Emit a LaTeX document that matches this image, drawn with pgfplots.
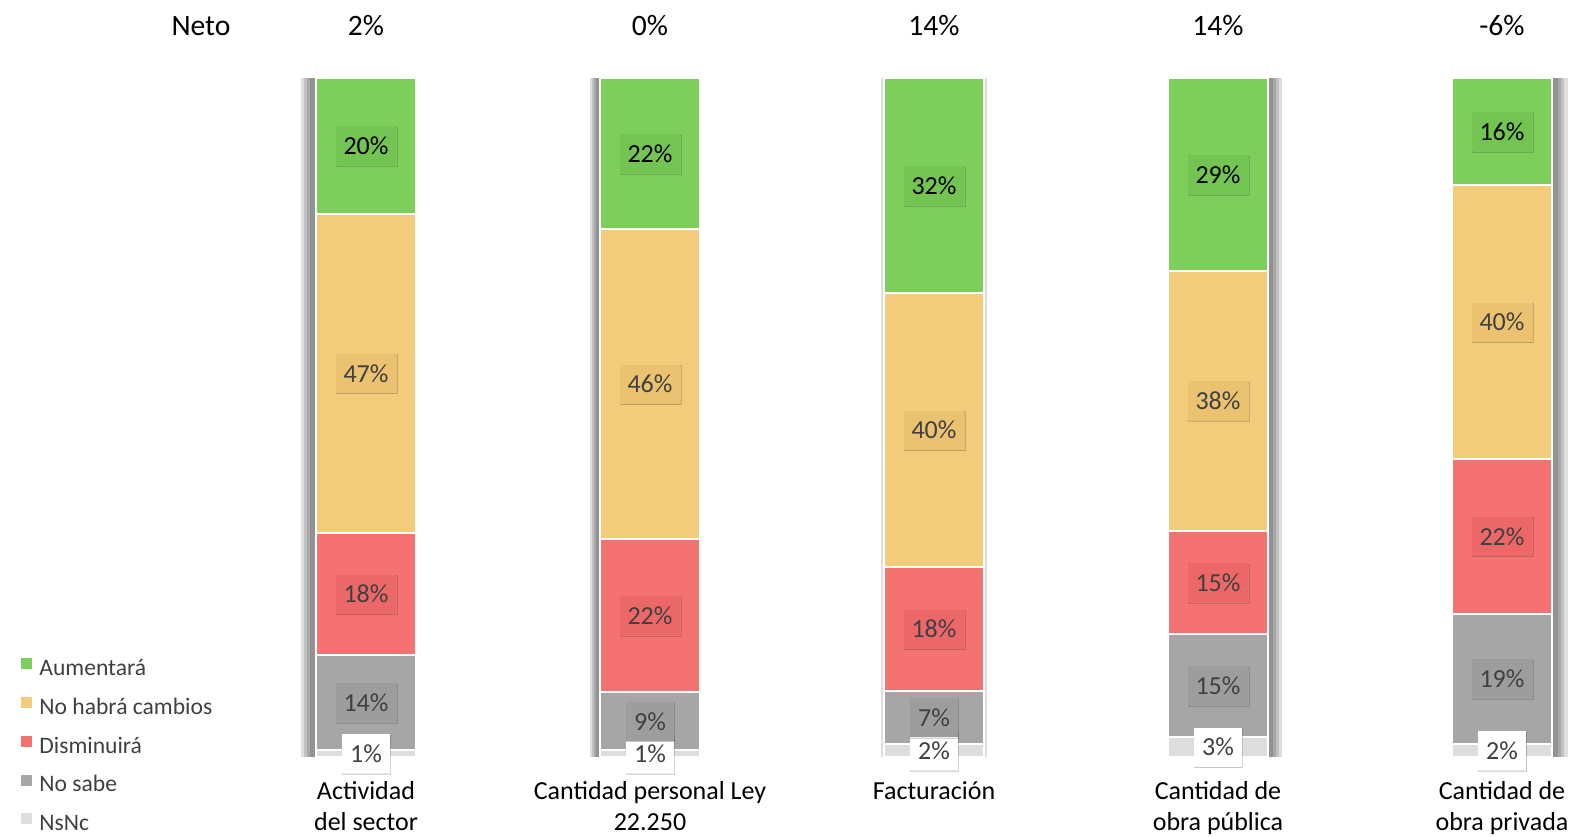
\documentclass[border=0pt]{standalone}
\usepackage{pgfplots}
\pgfplotsset{compat=1.18}
\usepackage{pgfplotstable}
\usepackage{fontspec}
\setmainfont{Carlito}
\usetikzlibrary{shadows}

\definecolor{cAum}{RGB}{126,206,92}
\definecolor{cAumB}{RGB}{116,196,83}
\definecolor{cNo}{RGB}{242,204,122}
\definecolor{cNoB}{RGB}{235,195,112}
\definecolor{cDis}{RGB}{245,114,114}
\definecolor{cDisB}{RGB}{236,104,104}
\definecolor{cNs}{RGB}{166,166,166}
\definecolor{cNsB}{RGB}{157,157,157}
\definecolor{cNc}{RGB}{221,221,221}
\definecolor{txt}{RGB}{64,64,64}

% segment heights (bottom to top) and their printed labels
\pgfplotstableread{
x nc  ns   dis  no   aum  lnc lns ldis lno laum
0 1.0 14.0 18.0 47.0 20.0 1   14  18   47  20
1 1.0 8.5  22.6 45.6 22.3 1   9   22   46  22
2 1.9 7.8  18.3 40.3 31.7 2   7   18   40  32
3 2.9 15.2 15.2 38.3 28.4 3   15  15   38  29
4 1.9 19.2 22.8 40.3 15.8 2   19  22   40  16
}\data

\pgfplotsset{common/.style={scale only axis, width=788.5pt, height=418.5pt,
  xmin=-1.2887, xmax=4.2641, ymin=-11.78, ymax=111.49, hide axis, clip=false},
  shd/.style={fill=black, draw=none, opacity=0.13, bar shift=#1},
  lbl/.style n args={2}{only marks, mark=*, mark size=0pt,
    mark options={draw=none, fill=none},
    nodes near coords={\pgfplotspointmeta\%},
    nodes near coords style={fill=#1, text=#2}}}

\begin{document}
\begin{tikzpicture}
% perspective shadows behind the bars
\begin{axis}[common, ybar, bar width=0.3486]
\addplot[shd=-0.0563] coordinates {(0,100)};
\addplot[shd=-0.0450] coordinates {(0,100)};
\addplot[shd=-0.0340] coordinates {(0,100)};
\addplot[shd=-0.0225] coordinates {(0,100)};
\addplot[shd=-0.0387] coordinates {(1,100)};
\addplot[shd=-0.0310] coordinates {(1,100)};
\addplot[shd=-0.0232] coordinates {(1,100)};
\addplot[shd=-0.0155] coordinates {(1,100)};
\addplot[shd=0, bar width=0.3700] coordinates {(2,100)};
\addplot[shd=0.0493] coordinates {(3,100)};
\addplot[shd=0.0394] coordinates {(3,100)};
\addplot[shd=0.0296] coordinates {(3,100)};
\addplot[shd=0.0197] coordinates {(3,100)};
\addplot[shd=0.0563] coordinates {(4,100)};
\addplot[shd=0.0450] coordinates {(4,100)};
\addplot[shd=0.0340] coordinates {(4,100)};
\addplot[shd=0.0225] coordinates {(4,100)};
\end{axis}

% bars and legend
\begin{axis}[common, name=main, ybar stacked, bar width=0.3521,
  legend style={draw=none, fill=none, at={(0.0095,0.2186)}, anchor=north west,
    font=\fontsize{11.8}{14}\selectfont, text=txt, row sep=8.25pt, column sep=3.5pt,
    nodes={inner sep=0pt, text height=8.5pt, text depth=2.5pt}},
  legend cell align=left,
  reverse legend,
  legend image code/.code={\fill[#1,draw=none] (0pt,0.1pt) rectangle (5.5pt,5.6pt);},
]
\addplot[fill=cNc, draw=white, line width=1pt] table[x=x,y=nc]{\data};
\addplot[fill=cNs, draw=white, line width=1pt] table[x=x,y=ns]{\data};
\addplot[fill=cDis, draw=white, line width=1pt] table[x=x,y=dis]{\data};
\addplot[fill=cNo, draw=white, line width=1pt] table[x=x,y=no]{\data};
\addplot[fill=cAum, draw=white, line width=1pt] table[x=x,y=aum]{\data};
\legend{NsNc, No sabe, Disminuirá, No habrá cambios, Aumentará}

% Neto row
\node[anchor=base, font=\fontsize{14.8}{17}\selectfont] at (axis cs:-0.581,106.2) {Neto};
\node[anchor=base, font=\fontsize{14.8}{17}\selectfont] at (axis cs:0,106.2) {2\%};
\node[anchor=base, font=\fontsize{14.8}{17}\selectfont] at (axis cs:1,106.2) {0\%};
\node[anchor=base, font=\fontsize{14.8}{17}\selectfont] at (axis cs:2,106.2) {14\%};
\node[anchor=base, font=\fontsize{14.8}{17}\selectfont] at (axis cs:3,106.2) {14\%};
\node[anchor=base, font=\fontsize{14.8}{17}\selectfont] at (axis cs:4,106.2) {-6\%};

% category labels (base anchor = last line's baseline)
\node[anchor=base, align=center, font=\fontsize{13}{15.5}\selectfont] at (axis cs:0,-10.85) {Actividad\\del sector};
\node[anchor=base, align=center, font=\fontsize{13}{15.5}\selectfont] at (axis cs:1,-10.85) {Cantidad personal Ley\\22.250};
\node[anchor=base, align=center, font=\fontsize{13}{15.5}\selectfont] at (axis cs:2,-6.33) {Facturación};
\node[anchor=base, align=center, font=\fontsize{13}{15.5}\selectfont] at (axis cs:3,-10.85) {Cantidad de\\obra pública};
\node[anchor=base, align=center, font=\fontsize{13}{15.5}\selectfont] at (axis cs:4,-10.85) {Cantidad de\\obra privada};
\end{axis}

% value labels at the middle of each segment, drawn on top of all bars
\begin{axis}[common,
  point meta=explicit symbolic,
  nodes near coords align=center,
  every node near coord/.append style={anchor=center,
    font=\fontsize{13}{15}\selectfont, draw=none, inner xsep=4pt, inner ysep=0pt,
    minimum height=19.5pt,
    drop shadow={shadow xshift=0.3pt, shadow yshift=-0.5pt, opacity=0.16}},
]
\addplot[lbl={white}{txt}]
  table[x=x, y expr=\thisrow{nc}/2, meta=lnc]{\data};
\addplot[lbl={cNsB}{txt}]
  table[x=x, y expr=\thisrow{nc}+\thisrow{ns}/2, meta=lns]{\data};
\addplot[lbl={cDisB}{txt}]
  table[x=x, y expr=\thisrow{nc}+\thisrow{ns}+\thisrow{dis}/2, meta=ldis]{\data};
\addplot[lbl={cNoB}{txt}]
  table[x=x, y expr=\thisrow{nc}+\thisrow{ns}+\thisrow{dis}+\thisrow{no}/2, meta=lno]{\data};
\addplot[lbl={cAumB}{black}]
  table[x=x, y expr=\thisrow{nc}+\thisrow{ns}+\thisrow{dis}+\thisrow{no}+\thisrow{aum}/2, meta=laum]{\data};
\end{axis}
\pgfresetboundingbox
\path (main.south west) rectangle (main.north east);
\end{tikzpicture}
\end{document}
